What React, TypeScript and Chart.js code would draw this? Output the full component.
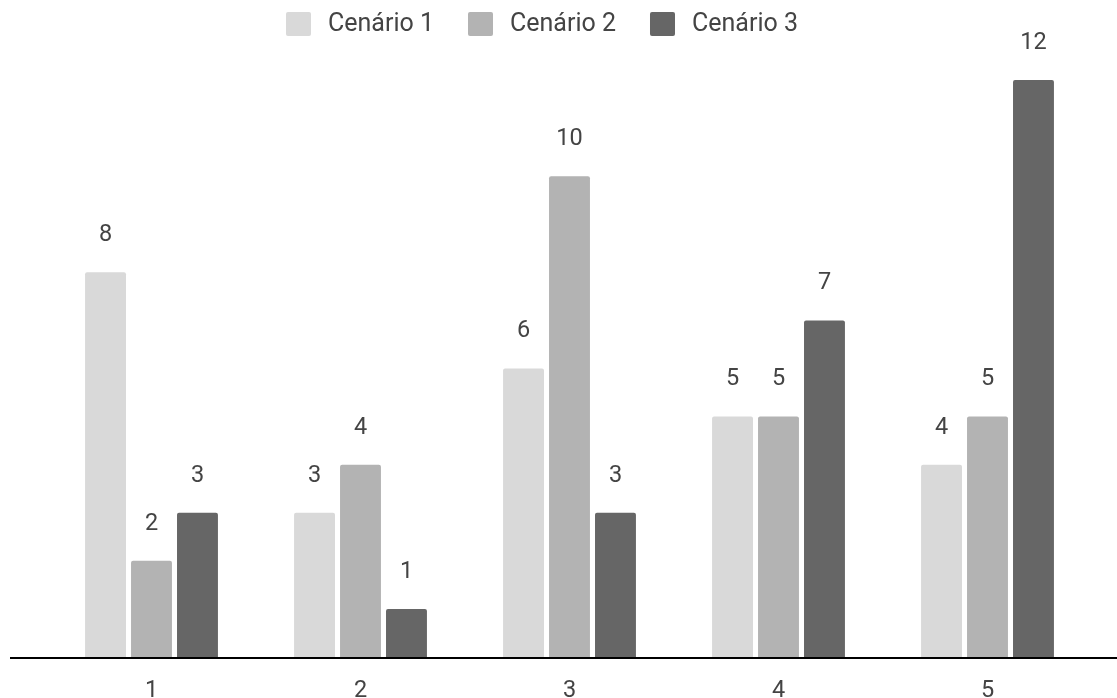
import React, { useEffect, useRef } from "react";
import { Chart, registerables } from "chart.js";

Chart.register(...registerables);

const categories = ["1", "2", "3", "4", "5"];
const seriesNames = ["Cenário 1", "Cenário 2", "Cenário 3"];
const cenario1 = [8, 3, 6, 5, 4];
const cenario2 = [2, 4, 10, 5, 5];
const cenario3 = [3, 1, 3, 7, 12];
const colors = ["#d9d9d9", "#b3b3b3", "#666666"];

const FONT = "Roboto";
const TEXT = "#444444";
const FS = 23.5;
const LEGEND_FS = 25;

const labelsPlugin = {
  id: "valueLabels",
  afterDatasetsDraw(chart: any) {
    const ctx = chart.ctx;
    ctx.save();
    ctx.font = `${FS}px ${FONT}`;
    ctx.fillStyle = TEXT;
    ctx.textAlign = "center";
    ctx.textBaseline = "middle";
    chart.data.datasets.forEach((ds: any, i: number) => {
      const meta = chart.getDatasetMeta(i);
      meta.data.forEach((bar: any, j: number) => {
        ctx.fillText(String(ds.data[j]), bar.x, bar.y - 37);
      });
    });
    const y = chart.scales.y.getPixelForValue(0);
    const xs = chart.scales.x;
    chart.data.labels.forEach((l: string, i: number) => {
      ctx.fillText(l, xs.getPixelForValue(i), y + 34);
    });
    ctx.strokeStyle = "#000000";
    ctx.lineWidth = 2;
    ctx.beginPath();
    ctx.moveTo(10, y + 1);
    ctx.lineTo(chart.width, y + 1);
    ctx.stroke();
    ctx.restore();
  },
};

const legendPlugin = {
  id: "customLegend",
  afterDraw(chart: any) {
    const ctx = chart.ctx;
    ctx.save();
    ctx.font = `${LEGEND_FS}px ${FONT}`;
    ctx.textBaseline = "middle";
    const box = 25;
    const gapText = 17;
    const gapItem = 34;
    const widths = seriesNames.map((n) => box + gapText + ctx.measureText(n).width);
    const total = widths.reduce((a, b) => a + b, 0) + gapItem * (seriesNames.length - 1);
    let x = 542 - total / 2;
    const cy = 24;
    seriesNames.forEach((n, i) => {
      ctx.fillStyle = colors[i];
      ctx.beginPath();
      (ctx as any).roundRect(x, cy - 12, box, 24, 2);
      ctx.fill();
      ctx.fillStyle = TEXT;
      ctx.textAlign = "left";
      ctx.fillText(n, x + box + gapText, cy + 1);
      x += widths[i] + gapItem;
    });
    ctx.restore();
  },
};

export default function App() {
  const ref = useRef<HTMLCanvasElement>(null);
  useEffect(() => {
    if (!ref.current) return;
    const chart = new Chart(ref.current, {
      type: "bar",
      data: {
        labels: categories,
        datasets: [cenario1, cenario2, cenario3].map((d, i) => ({
          label: seriesNames[i],
          data: d,
          backgroundColor: colors[i],
          borderRadius: { topLeft: 2, topRight: 2, bottomLeft: 0, bottomRight: 0 },
          borderSkipped: false,
          categoryPercentage: 0.66,
          barPercentage: 0.89,
        })),
      },
      options: {
        animation: false,
        responsive: true,
        maintainAspectRatio: false,
        layout: { padding: { top: 80, left: 47, right: 25, bottom: 41 } },
        plugins: {
          legend: { display: false },
          tooltip: { enabled: false },
        },
        scales: {
          x: {
            grid: { display: false, drawTicks: false },
            border: { display: false },
            ticks: { display: false },
          },
          y: {
            display: false,
            min: 0,
            max: 12,
          },
        },
      },
      plugins: [labelsPlugin, legendPlugin],
    });
    return () => chart.destroy();
  }, []);
  return (
    <div style={{ position: "fixed", left: 0, top: 0, width: 1117, height: 698, background: "#ffffff" }}>
      <canvas ref={ref} />
    </div>
  );
}
